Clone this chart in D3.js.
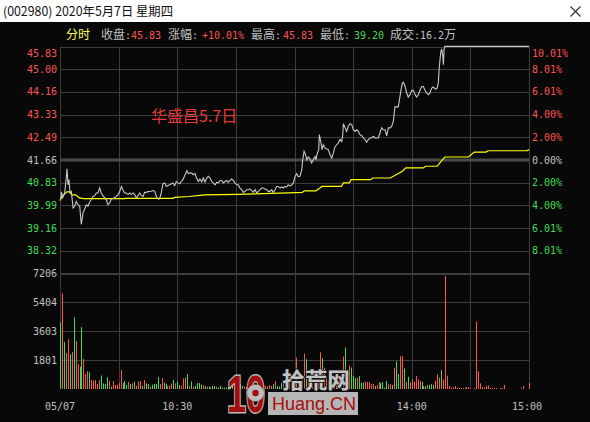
<!DOCTYPE html>
<html><head><meta charset="utf-8">
<script src="https://cdn.jsdelivr.net/npm/d3@7/dist/d3.min.js"></script>
<style>html,body{margin:0;padding:0;background:#080808;overflow:hidden}</style>
</head><body><svg id="c" width="590" height="422"></svg>
<script>
// ---------------- data ----------------
const prevClose = 41.66;
const priceTickLabels = ["45.83","45.00","44.16","43.33","42.49","41.66","40.83","39.99","39.16","38.32"];
const pctTickLabels = ["10.01%","8.01%","6.01%","4.00%","2.00%","0.00%","2.00%","4.00%","6.01%","8.01%"];
const volTickValues = [7206, 5404, 3603, 1801];
const timeTickMinutes = [0, 60, 180, 240];
const timeTickLabels = ["05/07", "10:30", "14:00", "15:00"];
// [minute since 9:30 (trading minutes), price]
const pricePoints = [[0.4,40.24],[0.7,40.49],[1.4,40.28],[2.4,40.46],[3.1,40.94],[3.6,41.34],[4.1,40.75],[4.6,40.94],[5.1,40.46],[5.8,40.51],[6.7,39.90],[7.5,39.96],[8.3,40.14],[9.2,40.02],[10.1,39.96],[10.9,39.30],[11.8,39.73],[12.6,39.86],[13.5,40.02],[14.3,39.96],[15.2,40.12],[16.0,40.20],[16.9,40.32],[17.8,40.35],[18.6,40.45],[19.4,40.45],[20.3,40.63],[21.1,40.45],[22.0,40.35],[22.9,40.27],[23.7,40.20],[24.6,40.02],[25.4,40.08],[26.3,40.23],[28.0,40.27],[29.7,40.39],[30.6,40.51],[31.4,40.69],[32.2,40.57],[33.1,40.45],[33.9,40.45],[34.8,40.39],[35.7,40.45],[36.5,40.39],[37.4,40.45],[38.2,40.39],[39.1,40.27],[39.9,40.35],[40.8,40.45],[41.6,40.35],[42.5,40.32],[43.3,40.47],[44.2,40.47],[45.0,40.50],[46.7,40.51],[47.6,40.54],[48.5,40.51],[49.3,40.32],[50.2,40.23],[51.0,40.23],[51.8,40.45],[52.7,40.79],[53.6,40.82],[54.4,40.69],[55.3,40.72],[56.1,40.75],[57.0,40.79],[57.8,40.82],[58.7,40.72],[59.5,40.87],[60.4,40.82],[61.3,40.79],[62.1,40.87],[62.9,40.94],[63.8,41.08],[65.0,41.27],[65.7,41.16],[66.5,41.18],[67.4,41.18],[68.2,41.12],[69.1,41.16],[69.9,41.00],[70.8,40.87],[71.6,40.96],[72.5,40.85],[73.3,41.00],[74.2,40.85],[75.1,41.00],[75.9,41.06],[76.8,41.00],[77.6,40.87],[78.5,40.82],[79.3,40.75],[80.2,40.84],[81.0,40.82],[81.9,40.91],[82.7,40.91],[83.6,40.82],[84.4,40.87],[85.3,40.91],[86.1,40.84],[87.0,40.91],[87.8,40.96],[88.7,40.91],[89.5,40.82],[90.4,40.75],[91.2,40.75],[92.1,40.63],[92.9,40.57],[93.8,40.47],[94.7,40.51],[95.5,40.57],[96.4,40.57],[97.2,40.60],[98.1,40.54],[98.9,40.47],[99.8,40.57],[100.7,40.45],[101.5,40.51],[102.4,40.57],[103.2,40.63],[104.0,40.63],[104.9,40.60],[105.8,40.57],[106.6,40.51],[107.5,40.51],[108.3,40.57],[109.2,40.47],[110.0,40.57],[110.9,40.69],[111.7,40.69],[112.6,40.63],[113.4,40.67],[114.3,40.63],[115.1,40.69],[116.0,40.67],[116.8,40.75],[117.7,40.70],[118.6,40.75],[119.4,40.82],[120.3,41.06],[121.1,41.16],[121.9,41.05],[122.8,41.06],[123.7,41.30],[124.2,41.67],[124.9,41.98],[125.7,41.85],[126.3,41.67],[127.1,41.77],[127.9,41.70],[128.8,41.55],[129.6,41.67],[130.5,41.79],[131.0,41.67],[131.7,41.92],[132.4,42.04],[132.7,42.59],[133.4,42.34],[134.1,42.04],[134.7,42.22],[135.6,42.10],[136.5,42.06],[137.3,42.04],[138.2,41.85],[139.1,41.73],[139.9,41.92],[140.7,42.14],[141.6,42.22],[142.4,42.28],[143.3,42.41],[144.2,42.34],[144.7,42.59],[145.0,42.99],[145.9,42.84],[146.7,42.71],[147.5,42.89],[148.4,42.99],[149.3,42.96],[150.1,42.77],[151.0,42.71],[151.8,42.77],[152.7,42.71],[153.5,42.59],[154.4,42.55],[155.2,42.47],[156.1,42.41],[156.9,42.31],[157.8,42.41],[158.6,42.47],[159.5,42.47],[160.3,42.53],[161.2,42.47],[162.1,42.47],[162.9,42.47],[163.8,42.67],[164.6,42.84],[165.5,42.77],[166.3,42.77],[167.2,42.55],[168.0,42.84],[168.9,42.84],[169.7,42.89],[170.6,43.08],[171.4,43.61],[172.3,43.61],[173.1,43.61],[174.0,44.00],[174.5,44.24],[175.2,44.49],[175.7,44.51],[176.6,44.36],[177.4,44.12],[178.2,43.97],[179.1,44.06],[180.0,44.22],[180.8,44.22],[181.7,44.06],[182.5,43.97],[183.4,44.06],[184.2,44.22],[185.1,44.36],[185.9,44.36],[186.8,44.22],[187.6,44.12],[188.5,44.06],[189.3,44.12],[190.2,44.30],[191.0,44.34],[191.9,44.27],[192.8,44.27],[193.6,44.49],[194.0,44.98],[194.8,45.59],[195.3,45.74],[195.9,45.46],[196.2,45.16],[196.5,45.71],[196.9,45.83],[240,45.83]];
// [minute, average price]
const avgPoints = [[0,40.17],[1,40.32],[3.5,40.49],[5,40.49],[6,40.38],[8,40.38],[9,40.32],[10,40.27],[12,40.24],[33,40.24],[33.5,40.25],[58,40.25],[58.5,40.29],[66,40.32],[74,40.38],[91,40.40],[117,40.45],[124,40.47],[125,40.53],[131,40.53],[133,40.63],[134,40.69],[144,40.69],[145,40.82],[148,40.82],[149,40.94],[159,40.94],[160,41.00],[169,41.00],[172,41.12],[175,41.24],[177,41.37],[186,41.37],[187,41.43],[193,41.43],[195,41.61],[197,41.77],[209,41.77],[212,41.95],[218,41.95],[219,42.00],[239,42.00],[240,42.04]];
// volume per minute (lots)
const volumes = [
 4171,5968,2932,2251,3098,2168,2313,4481,2994,1549,
 1384,3862,1879,929,1115,1053,558,516,558,310,
 558,847,351,310,723,516,145,496,248,268,
 372,1177,372,496,248,454,310,351,454,207,
 475,496,207,558,351,310,145,268,310,310,
 743,310,661,392,330,186,207,330,558,351,
 454,248,207,661,702,929,207,475,145,207,
 372,372,268,227,186,145,145,103,186,186,
 145,103,207,83,83,100,150,120,200,100,
 150,250,300,200,150,120,100,200,150,250,
 180,150,200,100,180,200,150,250,200,300,
 496,200,145,372,310,599,300,400,350,500,
 700,1962,400,300,600,2210,1859,500,350,400,
 300,450,600,2292,1920,1342,700,500,400,350,
 500,600,450,700,1200,2024,2581,600,1466,1342,
 805,680,700,800,392,413,454,433,433,310,
 310,186,248,433,372,433,83,495,289,300,
 250,1301,1735,929,2044,2044,1280,454,764,413,
 599,454,805,599,496,454,186,186,268,248,
 310,248,516,929,723,1177,600,7062,826,186,
 83,103,186,83,62,62,62,62,124,124,
 62,0,62,4213,1115,351,124,83,186,227,
 83,62,62,62,0,62,62,248,0,0,
 0,0,0,0,0,0,62,186,0,0,
 372];
// r = up (red), g = down (green)
const volColors = [
 "grgrrgrgrr","ggrrrgrrrr","rggggrgrrr","rrgggrgrgr","rrgrggrggg",
 "grrggrrrgr","ggrrrgrgrg","gggrgrgrgg","rgggggrggr","ggggrrgrgr",
 "grrgrrgrrg","rgggrgrrgr","rrgrrrgrgr","rgrrgrrgrg","rrgrrrgrrg",
 "ggrgggrrrr","rgrrggggrr","grggrrgrgr","rrrrrgggrg","ggrrrgrrrr",
 "rrrrrrrrrr","rrrrrrrrrr","rrrrrrrrrr","rrrrrrrrrr","r"].join("");

// ---------------- drawing ----------------
const svg = d3.select("#c");
const W = 590, H = 422;
const RED = "#ff5353", GREEN = "#3fdc50", GRAY = "#c0c0c0", GRID = "#3c3c3c";
const MONO = "'DejaVu Sans Mono', 'Liberation Mono', monospace";
const CJK = "'Noto Sans CJK SC', sans-serif";

svg.append("rect").attr("width", W).attr("height", H).attr("fill", "#080808");
// title bar
svg.append("rect").attr("width", W).attr("height", 22).attr("fill", "#ffffff");
svg.append("text").attr("x", 3).attr("y", 16).attr("font-family", CJK).attr("font-size", 12.5)
  .attr("fill", "#111").attr("textLength", 170).attr("lengthAdjust", "spacingAndGlyphs")
  .text("(002980) 2020年5月7日 星期四");
svg.append("path").attr("d", "M570.5,6.5 L580.5,16.5 M580.5,6.5 L570.5,16.5")
  .attr("stroke", "#333").attr("stroke-width", 1.2);

const x = d3.scaleLinear().domain([0, 240]).range([60, 529]);
const yP = d3.scaleLinear().domain([prevClose * 0.9, prevClose * 1.1]).range([273.5, 46.5]);
const yV = d3.scaleLinear().domain([0, 7206]).range([389, 273.5]);

// header row
const hdr = svg.append("g");
function htxt(xp, t, col, font, size) {
  hdr.append("text").attr("x", xp).attr("y", 39).attr("font-family", font).attr("font-size", size)
    .attr("fill", col).text(t);
}
htxt(66, "分时", "#ffff55", CJK, 12);
htxt(101, "收盘", GRAY, CJK, 12); htxt(125, ":", GRAY, MONO, 10); htxt(131, "45.83", RED, MONO, 10);
htxt(168, "涨幅", GRAY, CJK, 12); htxt(192, ":", GRAY, MONO, 10); htxt(202, "+10.01%", RED, MONO, 10);
htxt(251, "最高", GRAY, CJK, 12); htxt(275, ":", GRAY, MONO, 10); htxt(283, "45.83", RED, MONO, 10);
htxt(320, "最低", GRAY, CJK, 12); htxt(344, ":", GRAY, MONO, 10); htxt(354, "39.20", GREEN, MONO, 10);
htxt(390, "成交", GRAY, CJK, 12); htxt(414, ":16.2", GRAY, MONO, 10); htxt(444, "万", GRAY, CJK, 12);

// grid
const grid = svg.append("g");
const crisp = v => Math.round(v) + 0.5;
d3.range(0, 241, 30).forEach(m => {
  grid.append("line").attr("x1", crisp(x(m))).attr("x2", crisp(x(m)))
    .attr("y1", 46.5).attr("y2", 389).attr("stroke", GRID).attr("stroke-width", 1);
});
for (let j = 5; j >= -4; j--) {
  const yy = yP(prevClose * (1 + 0.02 * j));
  if (j === 0) {
    grid.append("line").attr("x1", 60).attr("x2", 529).attr("y1", Math.round(yy)).attr("y2", Math.round(yy))
      .attr("stroke", "#4a4a4a").attr("stroke-width", 3);
  } else {
    grid.append("line").attr("x1", 60).attr("x2", crisp(x(240))).attr("y1", crisp(yy)).attr("y2", crisp(yy))
      .attr("stroke", GRID).attr("stroke-width", 1);
  }
}
volTickValues.forEach((v, i) => {
  const yy = yV(v);
  grid.append("line").attr("x1", 60).attr("x2", crisp(x(240))).attr("y1", i === 0 ? Math.round(yy) : crisp(yy))
    .attr("y2", i === 0 ? Math.round(yy) : crisp(yy)).attr("stroke", GRID).attr("stroke-width", i === 0 ? 2 : 1);
});

// axis labels
const lab = svg.append("g").attr("font-family", MONO).attr("font-size", 10);
priceTickLabels.forEach((t, i) => {
  const j = 5 - i;
  let yy = yP(prevClose * (1 + 0.02 * j));
  if (j === 5) yy += 6.5;
  const col = j > 0 ? RED : (j === 0 ? GRAY : GREEN);
  lab.append("text").attr("x", 57).attr("y", yy).attr("dy", "0.35em").attr("text-anchor", "end")
    .attr("fill", col).text(t);
  lab.append("text").attr("x", 532).attr("y", yy).attr("dy", "0.35em").attr("text-anchor", "start")
    .attr("fill", col).text(pctTickLabels[i]);
});
volTickValues.forEach(v => {
  lab.append("text").attr("x", 57).attr("y", yV(v)).attr("dy", "0.35em").attr("text-anchor", "end")
    .attr("fill", GRAY).text(String(v));
});
timeTickMinutes.forEach((m, i) => {
  lab.append("text").attr("x", i === timeTickMinutes.length - 1 ? x(m) - 2 : x(m)).attr("y", 410)
    .attr("text-anchor", "middle").attr("fill", GRAY).text(timeTickLabels[i]);
});

// volume bars
svg.append("g").selectAll("rect").data(volumes).join("rect")
  .attr("x", (d, i) => Math.round(x(i)))
  .attr("y", d => yV(d))
  .attr("width", 1)
  .attr("height", d => 389 - yV(d))
  .attr("fill", (d, i) => volColors[i] === "r" ? RED : GREEN);

// price & average lines
const line = d3.line().x(d => x(d[0])).y(d => yP(d[1]));
svg.append("path").datum(avgPoints).attr("d", line).attr("fill", "none")
  .attr("stroke", "#ffff00").attr("stroke-width", 1.2);
svg.append("path").datum(pricePoints).attr("d", line).attr("fill", "none")
  .attr("stroke", "#c8c8c8").attr("stroke-width", 1.1);

// annotation
svg.append("text").attr("x", 151).attr("y", 122).attr("font-family", CJK).attr("font-size", 16)
  .attr("fill", "#e63a3a").text("华盛昌5.7日");

// watermark
const wm = svg.append("g");
wm.append("rect").attr("x", 268).attr("y", 392).attr("width", 90).attr("height", 23).attr("fill", "#b6b6b6");
wm.append("text").attr("x", 272).attr("y", 410).attr("font-family", "'Liberation Sans', Arial, sans-serif")
  .attr("font-size", 19).attr("fill", "#a80c0c").attr("textLength", 84).attr("lengthAdjust", "spacingAndGlyphs")
  .text("Huang.CN");
wm.append("text").attr("x", 282).attr("y", 388).attr("font-family", CJK).attr("font-size", 22)
  .attr("font-weight", "bold").attr("fill", "#c4c4c4").attr("stroke", "#1a1a1a").attr("stroke-width", 1.5)
  .attr("paint-order", "stroke").attr("textLength", 68).attr("lengthAdjust", "spacingAndGlyphs").text("拾荒网");
wm.append("text").attr("x", 227).attr("y", 412).attr("font-family", "'Liberation Sans', Arial, sans-serif")
  .attr("font-size", 52).attr("font-weight", "bold").attr("fill", "#a50c0c").attr("stroke", "#b4b4b4")
  .attr("stroke-width", 3).attr("paint-order", "stroke").attr("textLength", 38)
  .attr("lengthAdjust", "spacingAndGlyphs").text("10");
wm.append("circle").attr("cx", 255.5).attr("cy", 393).attr("r", 8.5).attr("fill", "#bcbcbc");
wm.append("circle").attr("cx", 255.5).attr("cy", 393).attr("r", 3.2).attr("fill", "#a50c0c");
</script></body></html>
